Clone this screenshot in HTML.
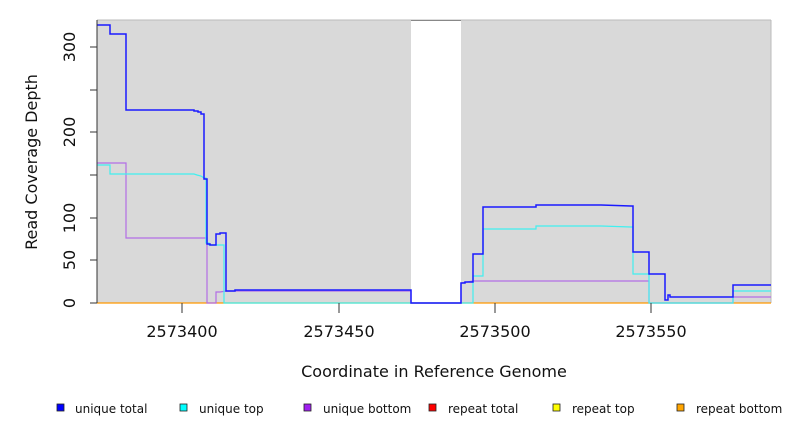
<!DOCTYPE html>
<html><head><style>body{margin:0;background:#fff}svg{display:block;font-family:"DejaVu Sans","Liberation Sans",sans-serif}</style></head><body>
<svg width="792" height="432" viewBox="0 0 792 432" xmlns="http://www.w3.org/2000/svg">
<rect x="97" y="20" width="674" height="283" fill="#d9d9d9"/>
<rect x="411" y="20" width="50" height="283" fill="#fff"/>
<line x1="411" y1="20.5" x2="461" y2="20.5" stroke="#555" stroke-width="1"/>
<line x1="771" y1="20" x2="771" y2="303" stroke="#bbb"/>
<line x1="97" y1="20" x2="771" y2="20" stroke="#bbb"/>
<g fill="none" stroke-width="1.2">
<polyline stroke="#ff9900" points="97,303 771,303"/>
<polyline stroke="#b36ee6" points="97,163 126,163 126,238 207,238 207,303 216,303 216,292 220,292 226,291 411,291 411,303 461,303 461,283 473,281 649,281 649,303 733,303 733,297 771,297"/>
<polyline stroke="#40f0f0" points="97,165 110,165 110,174 194,174 197,175 201,176 204,178 206,178 206,243 209,243 209,245 224,245 224,303 473,303 473,276 483,276 483,229 536,229 536,226 601,226 631,227 633,227 633,274 649,274 649,303 733,303 733,291 771,291"/>
<polyline stroke="#1a1aff" stroke-width="1.5" points="97,25 110,25 110,34 126,34 126,110 194,110 194,111 198,111 198,112 201,112 201,114 204,114 204,179 207,179 207,244 210,244 210,245 216,245 216,234 220,234 220,233 226,233 226,291 235,291 235,290 411,290 411,303 461,303 461,283 465,283 465,282 473,282 473,254 483,254 483,207 536,207 536,205 601,205 631,206 633,206 633,252 649,252 649,274 665,274 665,300 668,300 668,295 670,295 670,297 733,297 733,285 771,285"/>
</g>
<g stroke="#333" stroke-width="1">
<line x1="97" y1="20" x2="97" y2="303"/>
<line x1="90" y1="303" x2="97" y2="303"/><line x1="90" y1="260" x2="97" y2="260"/><line x1="90" y1="218" x2="97" y2="218"/><line x1="90" y1="175" x2="97" y2="175"/><line x1="90" y1="132" x2="97" y2="132"/><line x1="90" y1="90" x2="97" y2="90"/><line x1="90" y1="47" x2="97" y2="47"/>
<line x1="182" y1="303" x2="182" y2="313"/><line x1="339" y1="303" x2="339" y2="313"/><line x1="495" y1="303" x2="495" y2="313"/><line x1="651" y1="303" x2="651" y2="313"/>
</g>
<g font-size="16" fill="#111" text-anchor="middle">
<text transform="translate(75,303) rotate(-90)">0</text>
<text transform="translate(75,260) rotate(-90)">50</text>
<text transform="translate(75,218) rotate(-90)">100</text>
<text transform="translate(75,132) rotate(-90)">200</text>
<text transform="translate(75,47) rotate(-90)">300</text>
<text x="182" y="337">2573400</text><text x="339" y="337">2573450</text><text x="495" y="337">2573500</text><text x="651" y="337">2573550</text>
<text x="434" y="377">Coordinate in Reference Genome</text>
<text transform="translate(37,162) rotate(-90)">Read Coverage Depth</text>
</g>
<g font-size="12" fill="#111" stroke="#222" stroke-width="0.8">
<rect x="57" y="404" width="7" height="7" fill="#0000ff"/><text x="75" y="413" stroke="none">unique total</text>
<rect x="180" y="404" width="7" height="7" fill="#00ffff"/><text x="199" y="413" stroke="none">unique top</text>
<rect x="304" y="404" width="7" height="7" fill="#a020f0"/><text x="323" y="413" stroke="none">unique bottom</text>
<rect x="429" y="404" width="7" height="7" fill="#ff0000"/><text x="448" y="413" stroke="none">repeat total</text>
<rect x="553" y="404" width="7" height="7" fill="#ffff00"/><text x="572" y="413" stroke="none">repeat top</text>
<rect x="677" y="404" width="7" height="7" fill="#ffa500"/><text x="696" y="413" stroke="none">repeat bottom</text>
</g>
</svg>
</body></html>
